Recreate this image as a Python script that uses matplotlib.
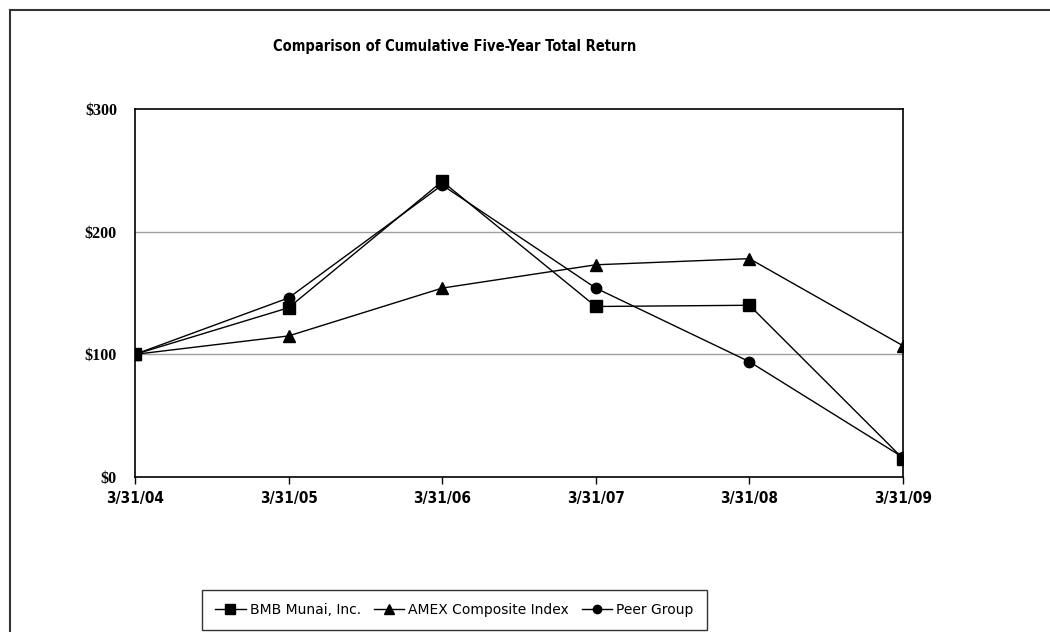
import matplotlib
matplotlib.use("Agg")
import matplotlib.pyplot as plt
from matplotlib.lines import Line2D

dates = ["3/31/04", "3/31/05", "3/31/06", "3/31/07", "3/31/08", "3/31/09"]
bmb = [100, 138, 241, 139, 140, 15]
amex = [100, 115, 154, 173, 178, 107]
peer = [100, 146, 238, 154, 94, 16]
yticks = [0, 100, 200, 300]
ylabels = ["$0", "$100", "$200", "$300"]

narrow = ['DejaVu Sans']

fig = plt.figure(figsize=(10.5, 6.32), dpi=100)
ax = fig.add_axes([135/1050, 1-477/632, (903-135)/1050, (477-109)/632])

x = list(range(len(dates)))
ax.plot(x, bmb, color='black', lw=1, marker='s', ms=9, label='BMB Munai, Inc.', zorder=4)
ax.plot(x, amex, color='black', lw=1, marker='^', ms=9, label='AMEX Composite Index', zorder=3)
ax.plot(x, peer, color='black', lw=1, marker='o', ms=7.5, label='Peer Group', zorder=3)

ax.set_xlim(0, len(dates)-1)
ax.set_ylim(0, 300)
ax.set_yticks(yticks)
ax.set_yticklabels(ylabels, family=['Liberation Serif', 'DejaVu Serif'], fontweight='bold', fontsize=11.5)
ax.set_xticks(x)
ax.set_xticklabels(dates, family=narrow, fontstretch='condensed', fontweight='bold', fontsize=11)
ax.tick_params(axis='y', length=0, pad=13)
ax.tick_params(axis='x', length=5, width=1, direction='out', pad=5, color='black')
for y in [100, 200]:
    ax.axhline(y, color='#a0a0a0', lw=1, zorder=1)
for s in ax.spines.values():
    s.set_color('black')
    s.set_linewidth(1.2)

fig.text(455/1050, 1-47/632, "Comparison of Cumulative Five-Year Total Return",
         ha='center', va='center', family=narrow, fontstretch='condensed',
         fontweight='bold', fontsize=10.5)

# outer chart frame
fig.add_artist(Line2D([10/1050, 1.01], [1-10/632, 1-10/632], transform=fig.transFigure, color='#333333', lw=1.5))
fig.add_artist(Line2D([10/1050, 10/1050], [1-10/632, -0.01], transform=fig.transFigure, color='#333333', lw=1.5))

leg = fig.legend(loc='upper left', bbox_to_anchor=(202/1050, 1-590/632), ncol=3,
                 borderaxespad=0, frameon=True, fancybox=False, edgecolor='black',
                 handlelength=2.2, handletextpad=0.3, columnspacing=0.9, borderpad=0.95,
                 prop={'family': narrow, 'size': 10}, markerscale=0.8)
leg.get_frame().set_linewidth(1)

fig.savefig("out.png", dpi=100, facecolor='white')
